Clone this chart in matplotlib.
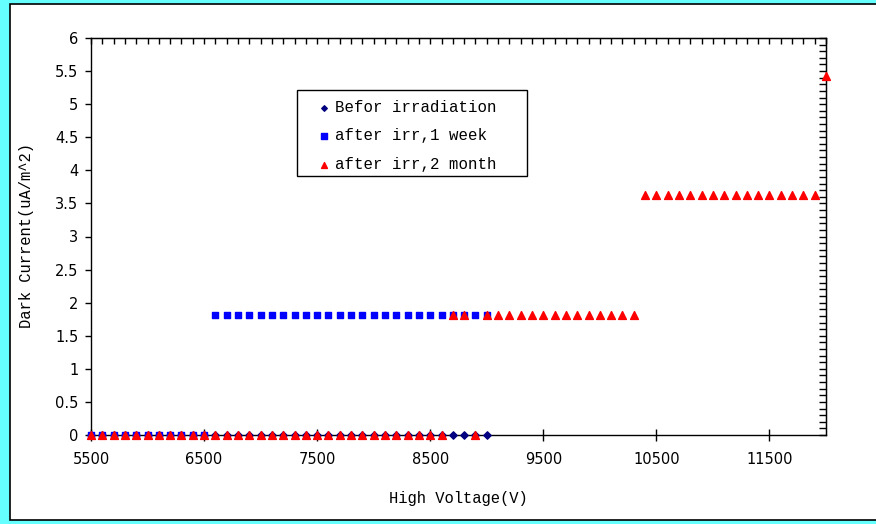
import matplotlib
matplotlib.use("Agg")
import matplotlib.pyplot as plt
from matplotlib.patches import Rectangle
from matplotlib.ticker import MultipleLocator, NullFormatter

# ---- data ----
v_before = [5500, 5600, 5700, 5800, 5900, 6000, 6100, 6200, 6300, 6400, 6500,
            6600, 6700, 6800, 6900, 7000, 7100, 7200, 7300, 7400, 7500,
            7600, 7700, 7800, 7900, 8000, 8100, 8200, 8300, 8400, 8500,
            8600, 8700, 8800, 8900, 9000]
i_before = [0, 0, 0, 0, 0, 0, 0, 0, 0, 0, 0,
            0, 0, 0, 0, 0, 0, 0, 0, 0, 0,
            0, 0, 0, 0, 0, 0, 0, 0, 0, 0,
            0, 0, 0, 0, 0]

v_week = [5500, 5600, 5700, 5800, 5900, 6000, 6100, 6200, 6300, 6400, 6500,
          6600, 6700, 6800, 6900, 7000, 7100, 7200, 7300, 7400, 7500,
          7600, 7700, 7800, 7900, 8000, 8100, 8200, 8300, 8400, 8500,
          8600, 8700, 8800, 8900, 9000]
i_week = [0, 0, 0, 0, 0, 0, 0, 0, 0, 0, 0,
          1.82, 1.82, 1.82, 1.82, 1.82, 1.82, 1.82, 1.82, 1.82, 1.82,
          1.82, 1.82, 1.82, 1.82, 1.82, 1.82, 1.82, 1.82, 1.82, 1.82,
          1.82, 1.82, 1.82, 1.82, 1.82]

v_month = [5500, 5600, 5700, 5800, 5900, 6000, 6100, 6200, 6300, 6400, 6500,
           6600, 6700, 6800, 6900, 7000, 7100, 7200, 7300, 7400, 7500,
           7600, 7700, 7800, 7900, 8000, 8100, 8200, 8300, 8400, 8500,
           8600, 8700, 8800, 8900, 9000, 9100, 9200, 9300, 9400, 9500,
           9600, 9700, 9800, 9900, 10000, 10100, 10200, 10300,
           10400, 10500, 10600, 10700, 10800, 10900, 11000, 11100, 11200,
           11300, 11400, 11500, 11600, 11700, 11800, 11900, 12000]
i_month = [0, 0, 0, 0, 0, 0, 0, 0, 0, 0, 0,
           0, 0, 0, 0, 0, 0, 0, 0, 0, 0,
           0, 0, 0, 0, 0, 0, 0, 0, 0, 0,
           0, 1.82, 1.82, 0, 1.82, 1.82, 1.82, 1.82, 1.82, 1.82,
           1.82, 1.82, 1.82, 1.82, 1.82, 1.82, 1.82, 1.82,
           3.63, 3.63, 3.63, 3.63, 3.63, 3.63, 3.63, 3.63, 3.63,
           3.63, 3.63, 3.63, 3.63, 3.63, 3.63, 3.63, 5.43]

labels = ["Befor irradiation", "after irr,1 week", "after irr,2 month"]
x_ticks = [5500, 6500, 7500, 8500, 9500, 10500, 11500]
y_ticks = [0, 0.5, 1, 1.5, 2, 2.5, 3, 3.5, 4, 4.5, 5, 5.5, 6]
y_ticklabels = ["0", "0.5", "1", "1.5", "2", "2.5", "3", "3.5", "4", "4.5", "5", "5.5", "6"]

W, H = 876, 524
fig = plt.figure(figsize=(W / 100, H / 100), dpi=100)
fig.patch.set_facecolor("#66ffff")

# white chart area with black frame (background axes, pixel coords)
bg = fig.add_axes([0, 0, 1, 1], zorder=-10)
bg.set_xlim(0, W)
bg.set_ylim(H, 0)
bg.axis("off")
bg.add_patch(Rectangle((10, 4), W + 20, 516, facecolor="white",
                       edgecolor="black", linewidth=1.2))
# legend frame
bg.add_patch(Rectangle((297, 90), 230, 86, facecolor="white",
                       edgecolor="black", linewidth=1.0))

ax = fig.add_axes([91 / W, 1 - 435 / H, (826 - 91) / W, (435 - 38) / H])
ax.set_facecolor("none")
ax.set_xlim(5500, 12000)
ax.set_ylim(0, 6)

ax.scatter(v_before, i_before, marker="D", s=14, color="#000080", clip_on=False,
           zorder=3, label=labels[0])
ax.scatter(v_week, i_week, marker="s", s=24, color="#0000ff", clip_on=False,
           zorder=4, label=labels[1])
ax.scatter(v_month, i_month, marker="^", s=32, color="#ff0000", clip_on=False,
           zorder=5, label=labels[2])

for sp in ax.spines.values():
    sp.set_color("black")
    sp.set_linewidth(1.0)

ax.set_xticks(x_ticks)
ax.set_yticks(y_ticks)
ax.set_yticklabels(y_ticklabels)
ax.tick_params(axis="x", direction="inout", length=9, width=1, pad=8, labelsize=10.5)
ax.tick_params(axis="y", direction="out", length=4, width=1, pad=5, labelsize=10.5)

topax = ax.secondary_xaxis("top")
topax.xaxis.set_major_locator(MultipleLocator(100))
topax.xaxis.set_major_formatter(NullFormatter())
topax.tick_params(direction="in", length=4, width=1)

rightax = ax.secondary_yaxis("right")
rightax.yaxis.set_major_locator(MultipleLocator(0.1))
rightax.yaxis.set_major_formatter(NullFormatter())
rightax.tick_params(direction="in", length=5, width=1)

mono = "Liberation Mono"
fig.text(458 / W, 1 - 498 / H, "High Voltage(V)", ha="center", va="center",
         family=mono, fontsize=11.2)
fig.text(27 / W, 1 - 236 / H, "Dark Current(uA/m^2)", ha="center", va="center",
         rotation=90, family=mono, fontsize=11.2)

leg = ax.legend(loc="upper left", bbox_to_anchor=(315 / W, 1 - 100 / H),
                bbox_transform=fig.transFigure, frameon=False,
                prop={"family": mono, "size": 11.3}, handletextpad=0.2,
                handlelength=1.1, labelspacing=0.85, borderpad=0,
                borderaxespad=0, markerscale=0.75)

fig.savefig("out.png", dpi=100, facecolor=fig.get_facecolor())
